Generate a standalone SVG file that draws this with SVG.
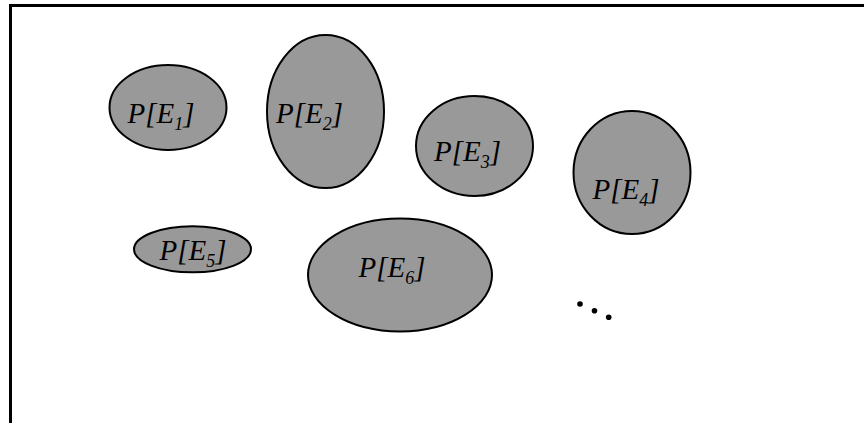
<svg xmlns="http://www.w3.org/2000/svg" width="864" height="423" viewBox="0 0 864 423">
<style>
.e{fill:#999999;stroke:#000;stroke-width:2}
.t{font-family:"Liberation Serif","Times New Roman",serif;font-style:italic;font-size:29px;fill:#000}
.s{font-size:18px}
</style>
<rect x="0" y="0" width="864" height="423" fill="#fff"/>
<path d="M10.5,423 V5.5 H864" fill="none" stroke="#000" stroke-width="3"/>
<g id="E1"><ellipse class="e" cx="168" cy="107.5" rx="58.5" ry="42.5"/><text class="t" x="127.5" y="122.5">P[E<tspan class="s" dy="7">1</tspan><tspan dy="-7">]</tspan></text></g>
<g id="E2"><ellipse class="e" cx="325.5" cy="111.5" rx="58.5" ry="76.5"/><text class="t" x="276" y="122.5">P[E<tspan class="s" dy="7">2</tspan><tspan dy="-7">]</tspan></text></g>
<g id="E3"><ellipse class="e" cx="474.5" cy="146" rx="58.5" ry="50"/><text class="t" x="434" y="161">P[E<tspan class="s" dy="7">3</tspan><tspan dy="-7">]</tspan></text></g>
<g id="E4"><ellipse class="e" cx="632" cy="172.5" rx="58.5" ry="61.5"/><text class="t" x="592.5" y="199">P[E<tspan class="s" dy="7">4</tspan><tspan dy="-7">]</tspan></text></g>
<g id="E5"><ellipse class="e" cx="192.5" cy="249.3" rx="58.5" ry="23"/><text class="t" x="159.5" y="260">P[E<tspan class="s" dy="7">5</tspan><tspan dy="-7">]</tspan></text></g>
<g id="E6"><ellipse class="e" cx="400" cy="275" rx="92" ry="56.5"/><text class="t" x="358.5" y="276.5">P[E<tspan class="s" dy="7">6</tspan><tspan dy="-7">]</tspan></text></g>
<g id="dots" fill="#000"><circle cx="580" cy="304" r="2.8"/><circle cx="594.5" cy="310.7" r="2.8"/><circle cx="608.7" cy="317.3" r="2.8"/></g>
</svg>
